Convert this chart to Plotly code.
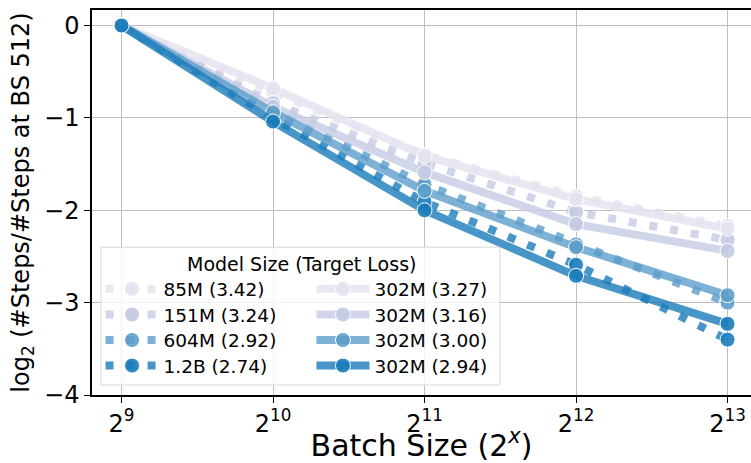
import plotly.graph_objects as go

# batch size exponents (2^x)
batch_exp = [9, 10, 11, 12, 13]
x_ticktext = ["2<sup>9</sup>", "2<sup>10</sup>", "2<sup>11</sup>", "2<sup>12</sup>", "2<sup>13</sup>"]
y_ticks = [-4, -3, -2, -1, 0]
y_ticktext = ["\u22124", "\u22123", "\u22122", "\u22121", "0"]

# dotted: scaling model size, solid: 302M at different target losses
dotted_names = ["85M (3.42)", "151M (3.24)", "604M (2.92)", "1.2B (2.74)"]
dotted_vals = [
    [0, -0.72, -1.40, -1.85, -2.17],
    [0, -0.84, -1.49, -2.02, -2.32],
    [0, -0.93, -1.72, -2.37, -3.00],
    [0, -1.00, -1.91, -2.59, -3.40],
]
solid_names = ["302M (3.27)", "302M (3.16)", "302M (3.00)", "302M (2.94)"]
solid_vals = [
    [0, -0.68, -1.41, -1.88, -2.20],
    [0, -0.88, -1.59, -2.15, -2.44],
    [0, -0.94, -1.79, -2.40, -2.92],
    [0, -1.04, -2.00, -2.71, -3.23],
]

colors = [(228, 226, 239), (196, 202, 227), (92, 158, 202), (26, 124, 186)]
FONT = "DejaVu Sans"
row_y = [0.2745, 0.2078, 0.1416, 0.0753]  # legend rows (paper coords)


def rgba(c, a):
    return f"rgba({c[0]},{c[1]},{c[2]},{a})"


fig = go.Figure()
legends = {}
leg = dict(bgcolor="rgba(0,0,0,0)", borderwidth=0, font=dict(family=FONT, size=18.5, color="black"),
           xanchor="left", yanchor="middle", itemwidth=53)

for i in range(4):
    key = "legend" if i == 0 else f"legend{i + 1}"
    fig.add_trace(go.Scatter(
        x=batch_exp, y=dotted_vals[i], name=dotted_names[i], mode="lines+markers",
        line=dict(color=rgba(colors[i], 0.8), width=8, dash="8px,13px"),
        marker=dict(size=15, color=rgba(colors[i], 0.9), line=dict(color="white", width=1)),
        legend=key,
    ))
    legends[key] = dict(leg, x=0.013, y=row_y[i])
for i in range(4):
    key = f"legend{i + 5}"
    fig.add_trace(go.Scatter(
        x=batch_exp, y=solid_vals[i], name=solid_names[i], mode="lines+markers",
        line=dict(color=rgba(colors[i], 0.8), width=8),
        marker=dict(size=15, color=rgba(colors[i], 0.9), line=dict(color="white", width=1)),
        legend=key,
    ))
    legends[key] = dict(leg, x=0.333, y=row_y[i])

# legend frame + title
fig.add_shape(type="rect", xref="paper", yref="paper", x0=0.0137, x1=0.619, y0=0.026, y1=0.384,
              line=dict(color="#d6d6d6", width=1), fillcolor="rgba(255,255,255,0.8)", layer="above")
fig.add_annotation(text="Model Size (Target Loss)", xref="paper", yref="paper", x=0.318, y=0.340,
                   xanchor="center", yanchor="middle",
                   showarrow=False, font=dict(family=FONT, size=19, color="black"))

fig.update_layout(
    width=751, height=463,
    margin=dict(l=92, r=0, t=10, b=68),
    plot_bgcolor="white", paper_bgcolor="white",
    font=dict(family=FONT, size=20, color="black"),
    showlegend=True,
    **legends,
    xaxis=dict(
        range=[8.805, 13.155], tickvals=batch_exp, ticktext=x_ticktext, automargin=False,
        showgrid=True, gridcolor="#bfbfbf", gridwidth=1.2,
        showline=True, linecolor="black", linewidth=1.5, mirror=True,
        ticks="outside", ticklen=6, tickwidth=1.2, tickcolor="black",
        tickfont=dict(size=24), zeroline=False,
        title=dict(text="Batch Size (2<sup><i>x</i></sup>)", font=dict(size=30), standoff=2),
    ),
    yaxis=dict(
        range=[-4, 0.168], tickvals=y_ticks, ticktext=y_ticktext, automargin=False,
        showgrid=True, gridcolor="#bfbfbf", gridwidth=1.2,
        showline=True, linecolor="black", linewidth=1.5,
        ticks="outside", ticklen=6, tickwidth=1.2, tickcolor="black",
        tickfont=dict(size=24), zeroline=False,
        title=dict(text="log<sub>2</sub> (#Steps/#Steps at BS 512)", font=dict(size=24), standoff=8),
    ),
)

# page body has a default 8px margin; drop it so the figure sits at the window origin
fig.write_html("out.html", config={"displayModeBar": False},
               post_script="document.body.style.margin='0';")
